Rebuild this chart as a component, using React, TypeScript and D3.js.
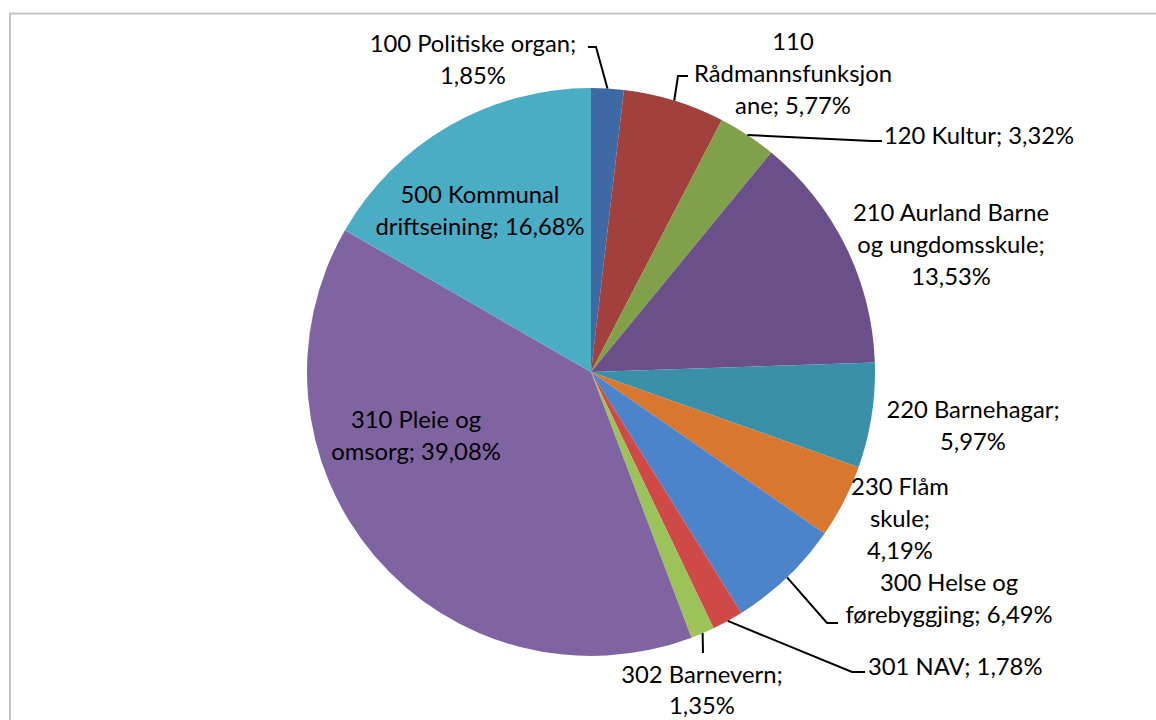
import React from 'react';
import * as d3 from 'd3';

// slice names (clockwise from 12 o'clock) and shares in percent
const names = [
  '100 Politiske organ',
  '110 Rådmannsfunksjonane',
  '120 Kultur',
  '210 Aurland Barne og ungdomsskule',
  '220 Barnehagar',
  '230 Flåm skule',
  '300 Helse og førebyggjing',
  '301 NAV',
  '302 Barnevern',
  '310 Pleie og omsorg',
  '500 Kommunal driftseining',
];
const shares = [1.85, 5.77, 3.32, 13.53, 5.97, 4.19, 6.49, 1.78, 1.35, 39.08, 16.68];
const labelLines = [
  ['100 Politiske organ;', '1,85%'],
  ['110', 'Rådmannsfunksjon', 'ane; 5,77%'],
  ['120 Kultur; 3,32%'],
  ['210 Aurland Barne', 'og ungdomsskule;', '13,53%'],
  ['220 Barnehagar;', '5,97%'],
  ['230 Flåm', 'skule;', '4,19%'],
  ['300 Helse og', 'førebyggjing; 6,49%'],
  ['301 NAV; 1,78%'],
  ['302 Barnevern;', '1,35%'],
  ['310 Pleie og', 'omsorg; 39,08%'],
  ['500 Kommunal', 'driftseining; 16,68%'],
];
const colors = [
  '#3d69a5', '#a2403d', '#80a04a', '#6a4f8b', '#3a90a8', '#d9772f',
  '#4c84cc', '#cf4a47', '#9cc35a', '#8064a2', '#4bacc6',
];

// layout: label anchor (x, first baseline y) and leader elbows
const labelPos: [number, number, string][] = [
  [473, 52, 'middle'],
  [793, 50, 'middle'],
  [884, 144, 'start'],
  [951, 221, 'middle'],
  [973, 418, 'middle'],
  [900, 495, 'middle'],
  [949, 591, 'middle'],
  [868, 675, 'start'],
  [702, 683, 'middle'],
  [416, 428, 'middle'],
  [480, 203, 'middle'],
];
const elbows: ([number, number][] | null)[] = [
  [[596, 47], [588, 47]],
  [[678, 76], [688, 76]],
  [[872, 141], [882, 141]],
  null,
  null,
  null,
  [[827, 623], [838, 623]],
  [[852, 672], [865, 672]],
  [[703, 653]],
  null,
  null,
];

const W = 1156, H = 720;
const cx = 591, cy = 372, R = 284;
const lineH = 31;

export default function App() {
  const pie = d3.pie<number>().sort(null).value((d) => d);
  const arcs = pie(shares);
  const arc = d3.arc<d3.PieArcDatum<number>>().innerRadius(0).outerRadius(R);

  return (
    <svg
      width={W}
      height={H}
      style={{ position: 'absolute', left: 0, top: 0, background: '#fff' }}
      fontFamily="Lato, 'Open Sans', sans-serif"
      fontSize={23.8}
    >
      <rect x={10} y={13.5} width={1200} height={800} fill="#fff" stroke="#c4c4c4" strokeWidth={2} />
      <g transform={`translate(${cx},${cy})`}>
        {arcs.map((a, i) => (
          <path key={names[i]} d={arc(a) || ''} fill={colors[i]} />
        ))}
      </g>
      {arcs.map((a, i) => {
        const el = elbows[i];
        if (!el) return null;
        const mid = (a.startAngle + a.endAngle) / 2;
        const p0: [number, number] = [cx + R * Math.sin(mid), cy - R * Math.cos(mid)];
        const pts = [p0, ...el];
        return (
          <path
            key={'l' + i}
            d={d3.line()(pts) || ''}
            fill="none"
            stroke="#000"
            strokeWidth={2}
          />
        );
      })}
      {labelLines.map((lines, i) => {
        const [x, y, anchor] = labelPos[i];
        return (
          <text key={'t' + i} x={x} y={y} textAnchor={anchor as any} fill="#000">
            {lines.map((s, j) => (
              <tspan key={j} x={x} dy={j === 0 ? 0 : lineH + (i === 8 ? 0 : 1)}>
                {s}
              </tspan>
            ))}
          </text>
        );
      })}
    </svg>
  );
}
